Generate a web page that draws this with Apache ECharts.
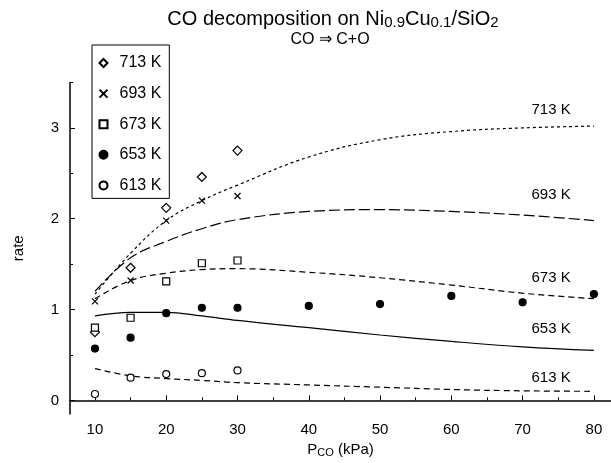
<!DOCTYPE html>
<html>
<head>
    <meta charset="utf-8">
    <title>CO decomposition</title>
    <script src="https://cdn.jsdelivr.net/npm/echarts@6/dist/echarts.min.js"></script>
</head>
<body style="margin: 0">
<div id="main" style="width: 611px; height: 463px"></div>
<script type="text/javascript">
    var FONT = '"Liberation Sans", Arial, sans-serif';

    // temperatures (legend names)
    var temps = ['713 K', '693 K', '673 K', '653 K', '613 K'];

    // measured points [P_CO kPa, rate]
    var pts713 = [[10, 0.75], [15, 1.46], [20, 2.12], [25, 2.46], [30, 2.75]];
    var pts693 = [[10, 1.09], [15, 1.32], [20, 1.98], [25, 2.20], [30, 2.25]];
    var pts673 = [[10, 0.80], [15, 0.91], [20, 1.31], [25, 1.51], [30, 1.54]];
    var pts653 = [[10, 0.57], [15, 0.69], [20, 0.96], [25, 1.02], [30, 1.02], [40, 1.04], [50, 1.06], [60, 1.15], [70, 1.08], [80, 1.17]];
    var pts613 = [[10, 0.07], [15, 0.25], [20, 0.29], [25, 0.30], [30, 0.33]];

    // model curves
    var fit713 = [[10, 1.17], [15, 1.62], [20, 1.98], [25, 2.20], [30, 2.37], [40, 2.68], [50, 2.87], [60, 2.96], [70, 3.00], [80, 3.02]];
    var fit693 = [[10, 1.20], [15, 1.57], [20, 1.75], [25, 1.89], [30, 1.99], [40, 2.08], [50, 2.10], [60, 2.08], [70, 2.04], [80, 1.98]];
    var fit673 = [[10, 1.12], [15, 1.32], [20, 1.40], [25, 1.44], [30, 1.45], [40, 1.41], [50, 1.35], [60, 1.27], [70, 1.18], [80, 1.12]];
    var fit653 = [[10, 0.93], [15, 0.97], [20, 0.97], [25, 0.93], [30, 0.88], [40, 0.80], [50, 0.72], [60, 0.65], [70, 0.59], [80, 0.55]];
    var fit613 = [[10, 0.35], [15, 0.27], [20, 0.24], [25, 0.22], [30, 0.195], [40, 0.17], [50, 0.145], [60, 0.12], [70, 0.105], [80, 0.10]];

    // axis ticks
    var xTicks = [10, 20, 30, 40, 50, 60, 70, 80];
    var xMinor = [15, 25, 35, 45, 55, 65, 75];
    var yTicks = [0, 1, 2, 3];
    var yMinor = [0.5, 1.5, 2.5, 3.5];

    // where the curve names sit
    var curveLabelX = 74;
    var curveLabelY = [3.2, 2.26, 1.35, 0.79, 0.25];

    var points = [pts713, pts693, pts673, pts653, pts613];
    var fits = [fit713, fit693, fit673, fit653, fit613];

    var crossPath = 'path://M0,0L10,10M10,0L0,10';
    var symbols = ['diamond', crossPath, 'rect', 'circle', 'circle'];
    var symSizes = [9, 6, 7, 7, 7];
    var fills = ['#fff', 'none', '#fff', '#000', '#fff'];
    var dashes = [[3, 3], [11, 4], [6, 4], 'solid', [6, 4]];

    var series = [];
    fits.forEach(function (d, i) {
        series.push({
            name: 'fit ' + temps[i],
            type: 'line',
            data: d,
            smooth: 0.4,
            showSymbol: false,
            silent: true,
            z: 1,
            lineStyle: { color: '#000', width: 1.2, type: dashes[i] },
            markPoint: {
                symbol: 'circle',
                symbolSize: 0,
                silent: true,
                label: {
                    show: true, position: 'inside', formatter: '{b}',
                    color: '#000', fontSize: 15, fontFamily: FONT
                },
                data: [{ name: temps[i], coord: [curveLabelX, curveLabelY[i]] }]
            }
        });
    });
    points.forEach(function (d, i) {
        series.push({
            name: temps[i],
            type: 'scatter',
            data: d,
            symbol: symbols[i],
            symbolSize: symSizes[i],
            z: 3,
            itemStyle: { color: fills[i], borderColor: '#000', borderWidth: 1.2, opacity: 1 }
        });
    });

    var chart = echarts.init(document.getElementById('main'));
    chart.setOption({
        animation: false,
        backgroundColor: '#fff',
        title: [{
            text: '{n|CO decomposition on Ni}{s|0.9}{n|Cu}{s|0.1}{n|/SiO}{s|2}',
            left: 328, top: 3, textAlign: 'center',
            textStyle: {
                rich: {
                    n: { fontSize: 20, fontWeight: 'normal', fontFamily: FONT, color: '#000' },
                    s: { fontSize: 15, fontWeight: 'normal', fontFamily: FONT, color: '#000', verticalAlign: 'bottom', padding: [7, 0, 0, 0] }
                }
            }
        }, {
            text: 'CO \u21d2 C+O',
            left: 325, top: 27, textAlign: 'center',
            textStyle: { fontSize: 16, fontWeight: 'normal', fontFamily: FONT, color: '#000' }
        }],
        legend: {
            data: temps,
            orient: 'vertical',
            left: 92, top: 45,
            itemWidth: 8, itemHeight: 8, itemGap: 14.6,
            padding: [10, 8, 5, 5],
            borderColor: '#000', borderWidth: 1,
            textStyle: { fontSize: 16, lineHeight: 16, color: '#000', fontFamily: FONT, padding: [0, 0, 0, 7] }
        },
        grid: { left: 70, right: 0, top: 82.5, bottom: 49 },
        xAxis: [{
            type: 'value', min: 6.5, max: 82.4,
            name: '{n|P}{s|CO}{n| (kPa)}', nameLocation: 'middle', nameGap: 28,
            nameTextStyle: {
                rich: {
                    n: { fontSize: 15, fontFamily: FONT, color: '#000' },
                    s: { fontSize: 11, fontFamily: FONT, color: '#000', verticalAlign: 'bottom', padding: [5, 0, 0, 0] }
                }
            },
            axisLine: { lineStyle: { color: '#000', width: 1.5 } },
            axisTick: { inside: true, length: 5, customValues: xTicks, lineStyle: { color: '#000' } },
            axisLabel: { customValues: xTicks, margin: 8, fontSize: 15, color: '#000', fontFamily: FONT },
            splitLine: { show: false }
        }, {
            type: 'value', min: 6.5, max: 82.4, position: 'bottom',
            axisLine: { show: false },
            axisTick: { inside: true, length: 3, customValues: xMinor, lineStyle: { color: '#000' } },
            axisLabel: { show: false },
            splitLine: { show: false }
        }],
        yAxis: [{
            type: 'value', min: -0.15, max: 3.5,
            name: 'rate', nameLocation: 'middle', nameGap: 44, nameRotate: 90,
            nameTextStyle: { fontSize: 15, color: '#000', fontFamily: FONT },
            axisLine: { lineStyle: { color: '#000', width: 1.5 } },
            axisTick: { inside: true, length: 5, customValues: yTicks, lineStyle: { color: '#000' } },
            axisLabel: { customValues: yTicks, margin: 11, fontSize: 15, color: '#000', fontFamily: FONT },
            splitLine: { show: false }
        }, {
            type: 'value', min: -0.15, max: 3.5, position: 'left',
            axisLine: { show: false },
            axisTick: { inside: true, length: 3, customValues: yMinor, lineStyle: { color: '#000' } },
            axisLabel: { show: false },
            splitLine: { show: false }
        }],
        series: series
    });
</script>
</body>
</html>
